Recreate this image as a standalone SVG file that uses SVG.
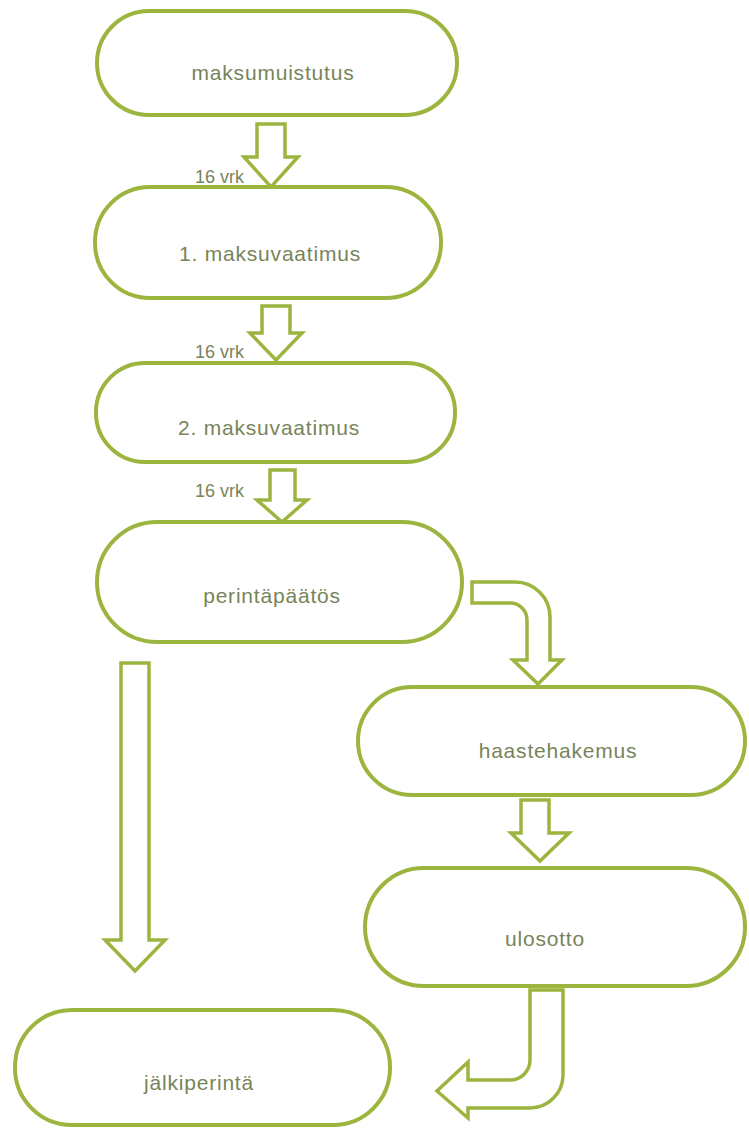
<svg xmlns="http://www.w3.org/2000/svg" width="749" height="1128" viewBox="0 0 749 1128">
<style>
.node{fill:#ffffff;stroke:#9cb53f;stroke-width:4}
.arr{fill:#ffffff;stroke:#9cb53f;stroke-width:3.5;stroke-linejoin:miter}
.t{font-family:"Liberation Sans",Arial,sans-serif;font-size:21px;letter-spacing:0.8px;fill:#77845a;text-anchor:middle}
.l{font-family:"Liberation Sans",Arial,sans-serif;font-size:18px;fill:#77845a}
</style>
<rect width="749" height="1128" fill="#ffffff"/>
<g id="connectors">
<path class="arr" d="M257,124 H285 V157 H298 L271,187 L244,157 H257 Z"/>
<path class="arr" d="M262,306 H290 V333 H302 L276,360 L250,333 H262 Z"/>
<path class="arr" d="M270,470 H295 V500 H307 L282,522 L257,500 H270 Z"/>
<path class="arr" d="M472,582 H515 A35,35 0 0 1 550,617 V660 H562 L538,684 L513,660 H527 V620 A17,17 0 0 0 510,603 H472 Z"/>
<path class="arr" d="M121,663 H149 V940 H165 L135,971 L105,940 H121 Z"/>
<path class="arr" d="M521,800 H549 V833 H569 L540,861 L511,833 H521 Z"/>
<path class="arr" d="M530,990 H563 V1075 A33,33 0 0 1 530,1108 H468 V1118 L437,1091 L468,1062 V1080 H510 A20,20 0 0 0 530,1060 Z"/>
<text class="l" x="195" y="183">16 vrk</text>
<text class="l" x="195" y="358">16 vrk</text>
<text class="l" x="195" y="497">16 vrk</text>
</g>
<g id="n1"><rect class="node" x="97" y="11" width="360" height="104" rx="52"/><text class="t" x="273" y="80">maksumuistutus</text></g>
<g id="n2"><rect class="node" x="95" y="187" width="346" height="111" rx="55"/><text class="t" x="270" y="261">1. maksuvaatimus</text></g>
<g id="n3"><rect class="node" x="96" y="363" width="359" height="99" rx="49"/><text class="t" x="269" y="435">2. maksuvaatimus</text></g>
<g id="n4"><rect class="node" x="97" y="522" width="365" height="120" rx="60"/><text class="t" x="272" y="603">perintäpäätös</text></g>
<g id="n5"><rect class="node" x="358" y="687" width="387" height="108" rx="54"/><text class="t" x="558" y="758">haastehakemus</text></g>
<g id="n6"><rect class="node" x="365" y="868" width="380" height="118" rx="59"/><text class="t" x="545" y="946">ulosotto</text></g>
<g id="n7"><rect class="node" x="15" y="1010" width="375" height="115" rx="57"/><text class="t" x="199" y="1090">jälkiperintä</text></g>
</svg>
